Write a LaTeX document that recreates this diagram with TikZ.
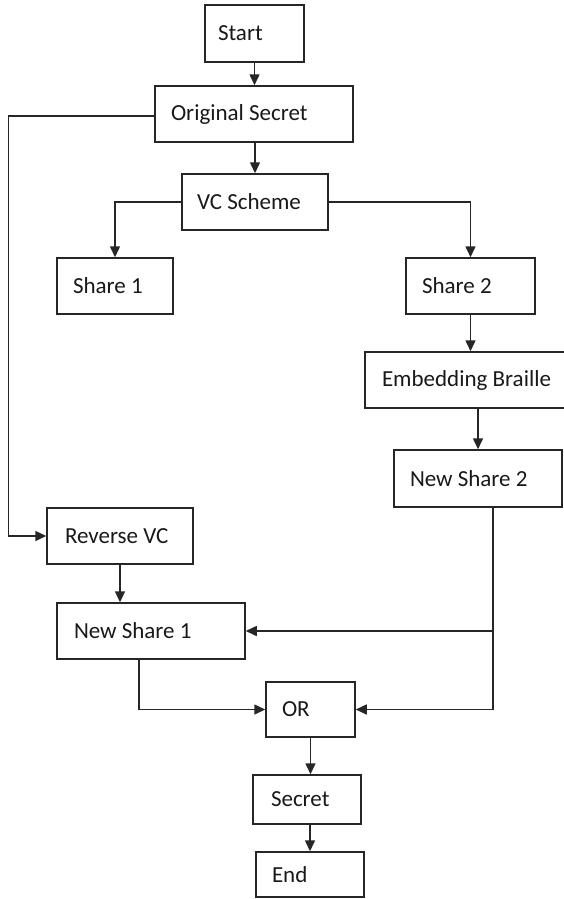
\documentclass[tikz,border=0pt]{standalone}
\usepackage{fontspec}
\setmainfont{Carlito}
\usetikzlibrary{arrows.meta}
\tikzset{
  box/.style={draw=black!85, line width=1.5pt, rectangle, inner sep=0pt, font=\fontsize{23}{27}\selectfont, text=black!90},
  arr/.style={draw=black!85, line width=1.5pt, -{Triangle[length=11pt,width=10pt]}},
  ln/.style={draw=black!85, line width=1.5pt}
}
\newcommand{\bx}[3]{\makebox[#1pt][l]{\hspace{#2pt}#3}}
\begin{document}
\begin{tikzpicture}[x=1pt,y=-1pt]
\clip (0,0) rectangle (564,899);
\useasboundingbox (0,0) rectangle (564,899);
\fill[white] (0,0) rectangle (564,899);

\node[box, minimum height=57pt] (start) at (254.5,33.5) {\bx{99}{13}{Start}};
\node[box, minimum height=56pt] (orig) at (254,114) {\bx{198}{16}{Original Secret}};
\node[box, minimum height=56pt] (vc) at (255,202) {\bx{146}{15}{VC Scheme}};
\node[box, minimum height=56pt] (share1) at (115,286) {\bx{116}{16}{Share 1}};
\node[box, minimum height=56pt] (share2) at (470.5,286) {\bx{129}{16}{Share 2}};
\node[box, minimum height=56pt] (eb) at (466.5,380) {\bx{203}{17}{Embedding Braille}};
\node[box, minimum height=57pt] (ns2) at (478,478.5) {\bx{168}{16}{New Share 2}};
\node[box, minimum height=56pt] (rvc) at (120,536) {\bx{146}{18}{Reverse VC}};
\node[box, minimum height=56pt] (ns1) at (151,631) {\bx{188}{17}{New Share 1}};
\node[box, minimum height=55pt] (or) at (310.5,709.5) {\bx{89}{16}{OR}};
\node[box, minimum height=49pt] (secret) at (307,799.5) {\bx{108}{18}{Secret}};
\node[box, minimum height=45pt] (end) at (310,874.5) {\bx{108}{16}{End}};

\draw[arr] (start.south) -- (start.south |- orig.north);
\draw[arr] ([xshift=1pt]orig.south) -- ([xshift=1pt]orig.south |- vc.north);
\draw[arr] ([yshift=-2pt]orig.west) -| ([xshift=-38pt]rvc.west) -- (rvc.west);
\draw[arr] (vc.west) -| (share1.north);
\draw[arr] (vc.east) -| (share2.north);
\draw[arr] (share2.south) -- (share2.south |- eb.north);
\draw[arr] (ns2.north |- eb.south) -- (ns2.north);
\draw[arr] (rvc.south) -- (rvc.south |- ns1.north);
\coordinate (jn) at ([xshift=15pt]ns2.south |- ns1.east);
\draw[arr] ([xshift=15pt]ns2.south) |- (or.east);
\draw[arr] (jn) -- (ns1.east);
\draw[arr] ([xshift=-12pt]ns1.south) |- (or.west);
\draw[arr] (or.south) -- (or.south |- secret.north);
\draw[arr] (end.north |- secret.south) -- (end.north);
\end{tikzpicture}
\end{document}
